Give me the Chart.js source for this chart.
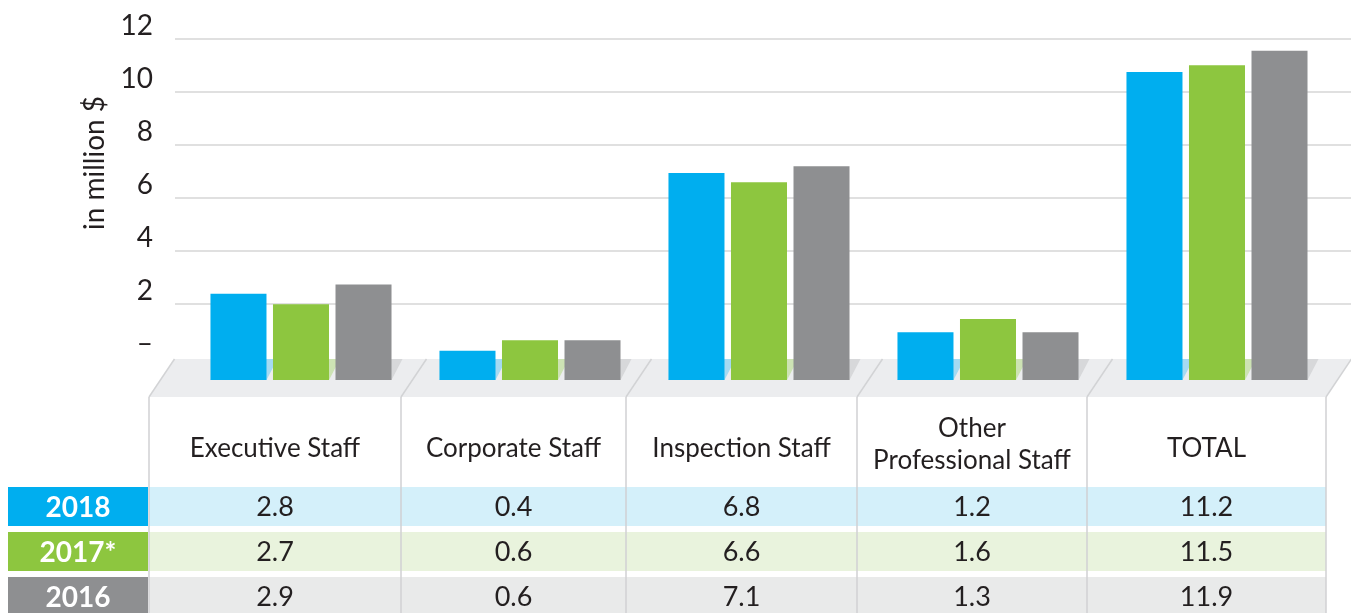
<!DOCTYPE html>
<html>
<head>
<meta charset="utf-8">
<title>Staff costs</title>
<script src="https://cdn.jsdelivr.net/npm/chart.js@4.4.0/dist/chart.umd.min.js"></script>
<style>
  html, body { margin: 0; padding: 0; background: #fff; }
  #wrap { position: relative; width: 1351px; height: 613px; }
</style>
</head>
<body>
<div id="wrap"><canvas id="staffChart"></canvas></div>
<script>
// categories / years
var categories = ["Executive Staff", "Corporate Staff", "Inspection Staff", ["Other", "Professional Staff"], "TOTAL"];
var years = ["2018", "2017*", "2016"];

// bar heights as drawn in the chart (million $)
var bars2018 = [2.4, 0.25, 6.95, 0.95, 10.75];
var bars2017 = [2.0, 0.65, 6.6, 1.45, 11.0];
var bars2016 = [2.75, 0.65, 7.2, 0.95, 11.55];

// values printed in the table
var table2018 = ["2.8", "0.4", "6.8", "1.2", "11.2"];
var table2017 = ["2.7", "0.6", "6.6", "1.6", "11.5"];
var table2016 = ["2.9", "0.6", "7.1", "1.3", "11.9"];

var yTicks = [0, 2, 4, 6, 8, 10, 12];

// colours
var barColors = ["#00aeef", "#8dc63f", "#8e8f91"];
var shadowColors = ["#a5daf2", "#cde3b4", "#d7d8da"];
var rowColors = ["#d4f0fa", "#e9f3dd", "#e9eaea"];
var textColor = "#231f20";
var font = "Lato, 'Noto Sans', sans-serif";

// layout of the floor and the table (pixels)
var floorTop = 359, floorBottom = 397, slant = 25.5;
var colEdges = [149, 401, 626, 857, 1087, 1326];
var rowTops = [487, 532, 577], rowH = 39;

function points(vals) {
  return vals.map(function (v, i) { return { x: i, y: v }; });
}

var floorTable = {
  id: 'floorTable',
  beforeDatasetsDraw: function (chart) {
    var ctx = chart.ctx;
    ctx.save();
    // floor
    ctx.fillStyle = "#ecedef";
    ctx.beginPath();
    ctx.moveTo(colEdges[0], floorBottom);
    ctx.lineTo(colEdges[0] + slant, floorTop);
    ctx.lineTo(colEdges[5] + slant, floorTop);
    ctx.lineTo(colEdges[5], floorBottom);
    ctx.closePath();
    ctx.fill();
    ctx.strokeStyle = "#d2d3d5";
    ctx.lineWidth = 1.5;
    colEdges.forEach(function (e) {
      ctx.beginPath();
      ctx.moveTo(e, floorBottom);
      ctx.lineTo(e + slant, floorTop);
      ctx.stroke();
    });
    // bar shadows on the floor
    chart.data.datasets.forEach(function (ds, i) {
      var meta = chart.getDatasetMeta(i);
      ctx.fillStyle = shadowColors[i];
      meta.data.forEach(function (bar) {
        var p = bar.getProps(['x', 'width', 'base'], true);
        var l = p.x - p.width / 2, r = p.x + p.width / 2, dx = 11;
        ctx.beginPath();
        ctx.moveTo(l, p.base);
        ctx.lineTo(r, p.base);
        ctx.lineTo(r + dx, floorTop);
        ctx.lineTo(l + dx, floorTop);
        ctx.closePath();
        ctx.fill();
      });
    });
    ctx.restore();
  },
  afterDraw: function (chart) {
    var ctx = chart.ctx;
    ctx.save();
    // axis title
    ctx.translate(95, 163);
    ctx.rotate(-Math.PI / 2);
    ctx.fillStyle = textColor;
    ctx.font = "28px " + font;
    ctx.textAlign = "center";
    ctx.textBaseline = "middle";
    ctx.fillText("in million $", 0, 0);
    ctx.restore();

    ctx.save();
    // rows
    var tables = [table2018, table2017, table2016];
    rowTops.forEach(function (t, r) {
      ctx.fillStyle = barColors[r];
      ctx.fillRect(8, t, 140, rowH);
      ctx.fillStyle = rowColors[r];
      ctx.fillRect(colEdges[0], t, colEdges[5] - colEdges[0], rowH);
    });
    // column lines
    ctx.strokeStyle = "#d0d1d3";
    ctx.lineWidth = 1.5;
    colEdges.forEach(function (e) {
      ctx.beginPath();
      ctx.moveTo(e, floorBottom);
      ctx.lineTo(e, 613);
      ctx.stroke();
    });
    // header
    ctx.fillStyle = textColor;
    ctx.textAlign = "center";
    ctx.textBaseline = "middle";
    ctx.font = "26px " + font;
    categories.forEach(function (c, i) {
      var cx = (colEdges[i] + colEdges[i + 1]) / 2;
      if (Array.isArray(c)) {
        ctx.fillText(c[0], cx, 429);
        ctx.fillText(c[1], cx, 461);
      } else {
        ctx.fillText(c, cx, 449);
      }
    });
    // values
    ctx.font = "27px " + font;
    rowTops.forEach(function (t, r) {
      tables[r].forEach(function (v, i) {
        var cx = (colEdges[i] + colEdges[i + 1]) / 2;
        ctx.fillText(v, cx, t + rowH / 2 + 1);
      });
    });
    // years
    ctx.fillStyle = "#ffffff";
    ctx.font = "bold 28px " + font;
    rowTops.forEach(function (t, r) {
      ctx.fillText(years[r], 78, t + rowH / 2 + 1);
    });
    ctx.restore();
  }
};

var ctx = document.getElementById("staffChart").getContext('2d');
var staffChart = new Chart(ctx, {
  type: 'bar',
  data: {
    datasets: [
      { label: years[0], data: points(bars2018), backgroundColor: barColors[0] },
      { label: years[1], data: points(bars2017), backgroundColor: barColors[1] },
      { label: years[2], data: points(bars2016), backgroundColor: barColors[2] }
    ]
  },
  options: {
    responsive: true,
    maintainAspectRatio: false,
    animation: false,
    categoryPercentage: 0.819,
    barPercentage: 0.896,
    base: -0.85,
    layout: { padding: { top: 37, bottom: 233, left: 0, right: 0 } },
    plugins: {
      legend: { display: false },
      tooltip: { enabled: false }
    },
    scales: {
      x: {
        type: 'linear',
        min: -0.5502,
        max: 4.5852,
        offset: false,
        grid: { offset: false },
        display: false,
        afterBuildTicks: function (scale) {
          scale.ticks = categories.map(function (c, i) { return { value: i }; });
        }
      },
      y: {
        min: -0.85,
        max: 12,
        border: { display: false },
        grid: {
          drawTicks: false,
          lineWidth: 2,
          color: function (c) { return c.tick && c.tick.value === 0 ? 'rgba(0,0,0,0)' : '#e0e0e0'; }
        },
        afterBuildTicks: function (scale) {
          scale.ticks = yTicks.map(function (v) { return { value: v }; });
        },
        afterFit: function (scale) { scale.width = 175; },
        ticks: {
          padding: 22,
          labelOffset: -13,
          color: textColor,
          font: { family: font, size: 28 },
          callback: function (v) { return v === 0 ? '\u2013' : v; }
        }
      }
    }
  },
  plugins: [floorTable]
});
</script>
</body>
</html>
